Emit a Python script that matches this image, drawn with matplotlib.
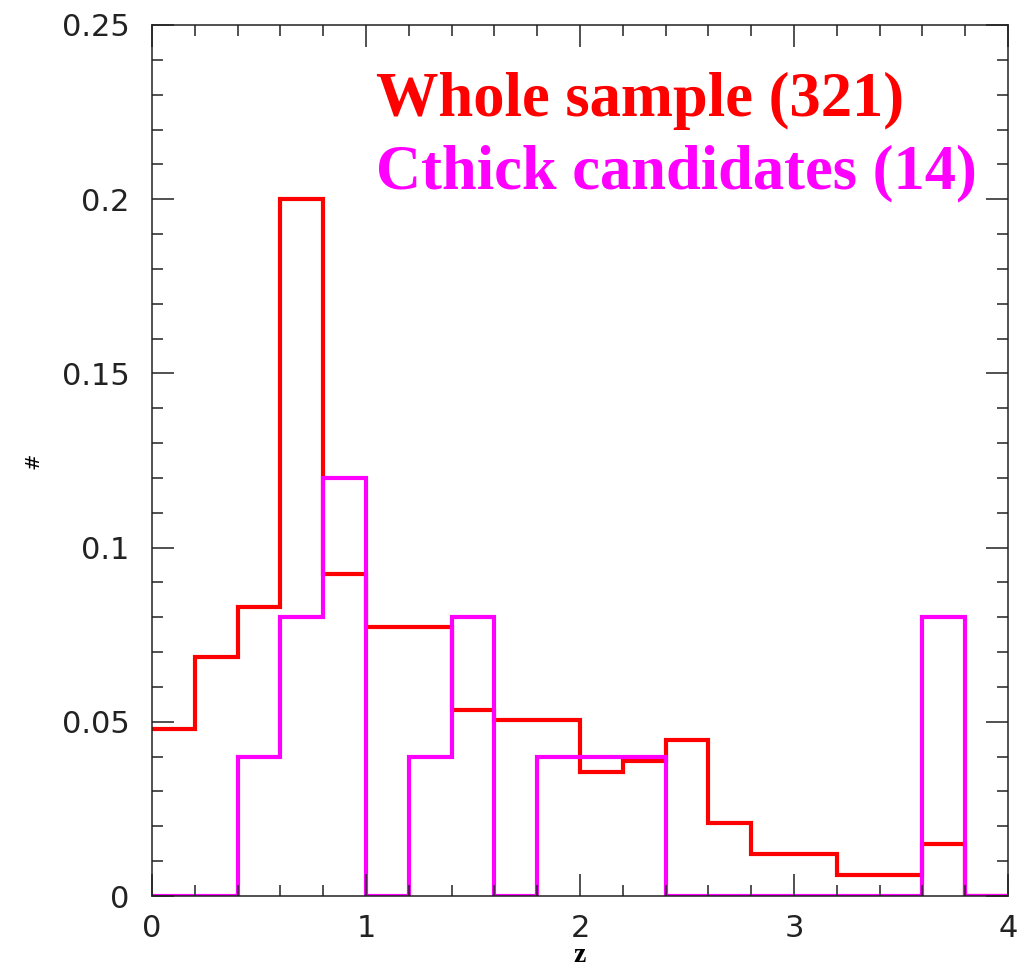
import numpy as np
from matplotlib import pyplot as plt

# bin edges in z
edges = np.round(np.arange(0, 4.01, 0.2), 1)

whole_sample = [0.048, 0.0685, 0.083, 0.2, 0.0925, 0.0773, 0.0773, 0.0534, 0.0506, 0.0506,
                0.0356, 0.0388, 0.0448, 0.021, 0.012, 0.012, 0.006, 0.006, 0.015, 0.0]
cthick = [0.0, 0.0, 0.04, 0.08, 0.12, 0.0, 0.04, 0.08, 0.0, 0.04,
          0.04, 0.04, 0.0, 0.0, 0.0, 0.0, 0.0, 0.0, 0.08, 0.0]

label_whole = 'Whole sample (321)'
label_cthick = 'Cthick candidates (14)'

fig = plt.figure(figsize=(10.27, 9.8), dpi=100)
ax = fig.add_axes([0.148, 0.0857, 0.8335, 0.8888])

ax.stairs(whole_sample, edges, color='#ff0000', linewidth=3.0, baseline=None)
ax.stairs(cthick, edges, color='#ff00ff', linewidth=3.0, baseline=None)

ax.set_xlim(0, 4)
ax.set_ylim(0, 0.25)
ax.set_xticks([0, 1, 2, 3, 4])
ax.set_xticklabels(['0', '1', '2', '3', '4'])
ax.set_yticks([0, 0.05, 0.1, 0.15, 0.2, 0.25])
ax.set_yticklabels(['0', '0.05', '0.1', '0.15', '0.2', '0.25'])
ax.set_xticks(np.arange(0, 4.01, 0.2), minor=True)
ax.set_yticks(np.arange(0, 0.2501, 0.01), minor=True)

ax.tick_params(which='both', direction='in', top=True, right=True, width=1.1,
               colors='#222222', labelsize=22)
ax.tick_params(which='major', length=16)
ax.tick_params(which='minor', length=8)
ax.tick_params(axis='y', pad=16)
ax.tick_params(axis='x', pad=13)
for s in ax.spines.values():
    s.set_linewidth(1.1)
    s.set_color('#222222')

ax.set_xlabel('z', fontsize=20, family='Liberation Serif', fontweight='bold', labelpad=0)
ax.set_ylabel('#', fontsize=14, labelpad=14)

ax.text(0.262, 0.895, label_whole, transform=ax.transAxes, color='#ff0000',
        family='Liberation Serif', fontweight='bold', fontsize=45, va='baseline')
ax.text(0.262, 0.812, label_cthick, transform=ax.transAxes, color='#ff00ff',
        family='Liberation Serif', fontweight='bold', fontsize=45, va='baseline')

plt.savefig('out.png', dpi=100)
